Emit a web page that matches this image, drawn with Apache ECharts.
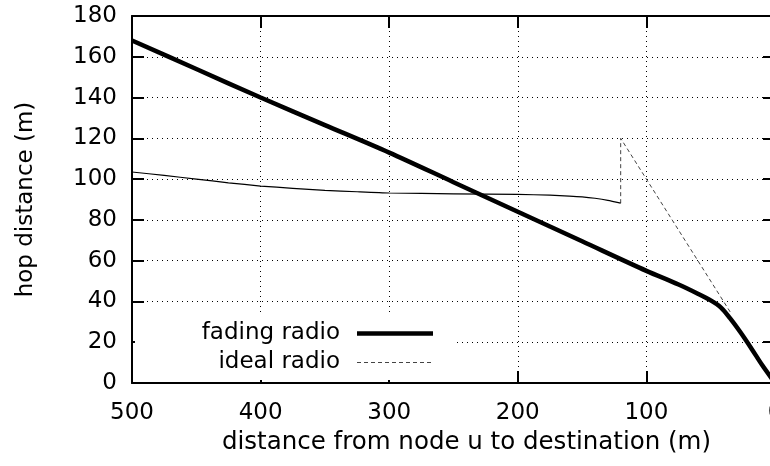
<!DOCTYPE html>
<html>
<head>
<meta charset="utf-8">
<script src="https://cdn.jsdelivr.net/npm/echarts@6/dist/echarts.min.js"></script>
<style>
html,body{margin:0;padding:0;background:#fff;}
#chart{width:770px;height:466px;}
</style>
</head>
<body>
<div id="chart"></div>
<script>
// Data
const fadingX = [500, 450, 400, 350, 300, 250, 200, 150, 100, 75, 60, 50, 42, 35, 27, 18, 10, 0];
const fadingY = [168, 154, 140, 126.5, 113, 98.5, 84, 69.5, 55, 48.3, 43.8, 40.5, 37, 31.8, 25, 16.6, 8.8, 0];
const idealCurveX = [500, 475, 450, 425, 400, 375, 350, 325, 300, 250, 200, 175, 160, 150, 140, 130, 120];
const idealCurveY = [103.5, 101.8, 100, 98.2, 96.6, 95.5, 94.5, 93.8, 93.2, 92.8, 92.5, 92.1, 91.7, 91.3, 90.6, 89.6, 88.2];
const idealJumpX = [120, 120, 34];
const idealJumpY = [88.2, 120, 34];
const xTicks = [500, 400, 300, 200, 100, 0];
const yTicks = [0, 20, 40, 60, 80, 100, 120, 140, 160, 180];
const seriesNames = ['fading radio', 'ideal radio'];
const xTitle = 'distance from node u to destination (m)';
const yTitle = 'hop distance (m)';

const zip = (xs, ys) => xs.map((x, i) => [x, ys[i]]);
const FONT = 'DejaVu Sans';

const chart = echarts.init(document.getElementById('chart'), null, {renderer: 'canvas'});
const gridLine = {show: true, lineStyle: {color: '#000', width: 1, type: [1, 4]}};
const axisLineStyle = {show: true, onZero: false, lineStyle: {color: '#000', width: 2}};
const tickStyle = {show: true, inside: true, length: 12, lineStyle: {color: '#000', width: 2}};

chart.setOption({
  animation: false,
  backgroundColor: '#fff',
  textStyle: {fontFamily: FONT},
  grid: {left: 132, top: 16, right: -5, bottom: 83, containLabel: false, outerBoundsMode: 'none'},
  xAxis: [{
    type: 'value', min: xTicks[xTicks.length - 1], max: xTicks[0], interval: 100, inverse: true,
    position: 'bottom',
    axisLine: axisLineStyle, axisTick: tickStyle, splitLine: gridLine,
    axisLabel: {color: '#000', fontSize: 23, fontFamily: FONT, margin: 19},
    name: xTitle, nameLocation: 'middle', nameGap: 39,
    nameTextStyle: {color: '#000', fontSize: 24.5, fontFamily: FONT, padding: [0, 0, 0, 26]}
  }, {
    type: 'value', min: 0, max: 500, interval: 100, inverse: true, position: 'top',
    axisLine: axisLineStyle, axisTick: tickStyle, splitLine: {show: false}, axisLabel: {show: false}
  }],
  yAxis: [{
    type: 'value', min: yTicks[0], max: yTicks[yTicks.length - 1], interval: 20, position: 'left',
    axisLine: axisLineStyle, axisTick: tickStyle, splitLine: gridLine,
    axisLabel: {color: '#000', fontSize: 23, fontFamily: FONT, margin: 15},
    name: yTitle, nameLocation: 'middle', nameGap: 94,
    nameTextStyle: {color: '#000', fontSize: 23, fontFamily: FONT}
  }, {
    type: 'value', min: 0, max: 180, interval: 20, position: 'right',
    axisLine: axisLineStyle, axisTick: tickStyle, splitLine: {show: false}, axisLabel: {show: false}
  }],
  legend: {
    orient: 'vertical', left: 135, top: 316, align: 'right',
    itemWidth: 76, itemHeight: 14, itemGap: 6,
    backgroundColor: '#fff', padding: [6, 18, 6, 5],
    itemStyle: {opacity: 0},
    textStyle: {color: '#000', fontSize: 23, fontFamily: FONT, width: 200, align: 'right', lineHeight: 20, padding: [0, 12, 0, 0]},
    data: [
      {name: seriesNames[0], lineStyle: {color: '#000', width: 4.5, type: 'solid'}, itemStyle: {opacity: 0}},
      {name: seriesNames[1], lineStyle: {color: '#444', width: 1, type: [4, 3]}, itemStyle: {opacity: 0}}
    ]
  },
  series: [{
    name: seriesNames[0], type: 'line', symbol: 'none', smooth: 0.3,
    lineStyle: {color: '#000', width: 4.5},
    itemStyle: {color: '#000'},
    data: zip(fadingX, fadingY), z: 3
  }, {
    name: seriesNames[1], type: 'line', symbol: 'none',
    lineStyle: {color: '#444', width: 1, type: [4, 3]},
    itemStyle: {color: '#444'},
    data: zip(idealJumpX, idealJumpY), z: 2
  }, {
    name: seriesNames[1], type: 'line', symbol: 'none', smooth: 0.2,
    lineStyle: {color: '#000', width: 1.2},
    itemStyle: {color: '#000'},
    data: zip(idealCurveX, idealCurveY), z: 2
  }]
});
</script>
</body>
</html>
